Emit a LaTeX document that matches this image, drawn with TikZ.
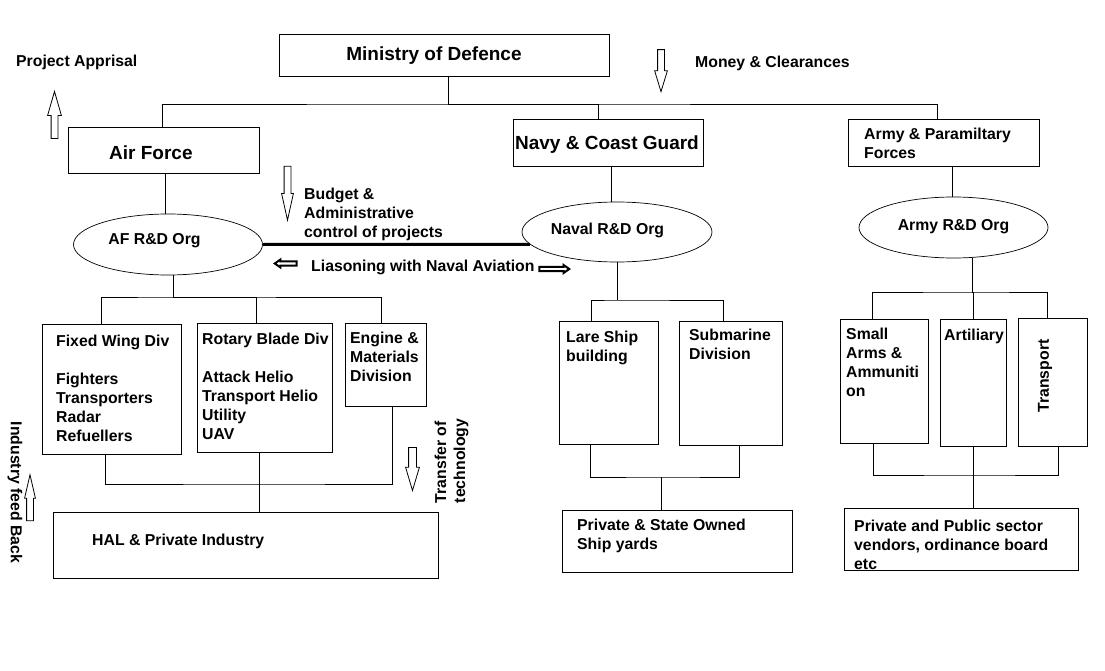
\documentclass[tikz,border=0pt]{standalone}
\usepackage{fontspec}
\setmainfont{Liberation Sans}
\usetikzlibrary{shapes.geometric,shapes.arrows}

\begin{document}
\begin{tikzpicture}[x=1pt, y=-1pt,
  box/.style={draw, line width=0.9pt, inner sep=0pt},
  rdorg/.style={draw, ellipse, line width=0.7pt, inner sep=0pt, minimum width=189pt, minimum height=61pt},
  lbl/.style={font=\fontsize{15.8}{19}\selectfont\bfseries, inner sep=0pt, align=left},
  biglbl/.style={font=\fontsize{19}{23}\selectfont\bfseries, inner sep=0pt},
  blockarrow/.style={single arrow, draw, line width=0.8pt, inner sep=3pt, single arrow head extend=3.5pt, anchor=tip},
  link/.style={line width=0.9pt}]
\useasboundingbox (0,0) rectangle (1105,671);

% ministry and services
\node[box, minimum width=330pt, minimum height=42pt] (mod) at (444,55) {};
\node[biglbl] (modtxt) at (434,55.5) {Ministry of Defence};
\node[box, minimum width=191pt, minimum height=46pt] (af) at (163.5,150) {};
\node[biglbl, anchor=west] (aftxt) at (109,152.5) {Air Force};
\node[box, minimum width=190pt, minimum height=47pt] (navy) at (608,142.5) {};
\node[biglbl] (navytxt) at (607,144.5) {Navy \& Coast Guard};
\node[box, minimum width=191pt, minimum height=47pt] (army) at (943.5,142.5) {};
\node[lbl, anchor=north west] (armytxt) at (864,128) {Army \& Paramiltary\\Forces};

\node[lbl, anchor=west] (apprisal) at (16,62) {Project Apprisal};
\node[blockarrow, rotate=90, minimum height=47pt, single arrow tip angle=32] (apprisalup) at (54.5,90) {};
\node[lbl, anchor=west] (money) at (695,63) {Money \& Clearances};
\node[blockarrow, rotate=-90, minimum height=42pt, single arrow head extend=3pt, single arrow tip angle=34] (moneydown) at (661,93) {};

\coordinate (topbus) at (448,104);
\draw[link] ([xshift=4pt]mod.south) -- (topbus);
\draw[link] ([xshift=-1.5pt]af.north) |- (topbus) -| ([xshift=-6.5pt]army.north);
\draw[link] ([xshift=-10pt]navy.north) |- (topbus);

% R&D organisations
\node[rdorg] (afrd) at (168,244.5) {};
\node[lbl] (afrdtxt) at (154.5,240.5) {AF R\&D Org};
\node[rdorg, minimum width=190pt, minimum height=60pt] (navrd) at (617,232) {};
\node[lbl] (navrdtxt) at (607.5,230.5) {Naval R\&D Org};
\node[rdorg] (armyrd) at (953.5,227.5) {};
\node[lbl] (armyrdtxt) at (953.5,226.5) {Army R\&D Org};
\draw[link] ([xshift=1.5pt]af.south) -- ([xshift=-3pt]afrd.north);
\draw[link] ([xshift=3pt]navy.south) -- ([xshift=-6pt]navrd.north);
\draw[link] ([xshift=8.5pt]army.south) -- ([xshift=-1.5pt]armyrd.north);

\node[blockarrow, rotate=-90, minimum height=54pt, single arrow head extend=2.5pt, single arrow tip angle=25] (budgetdown) at (287.5,222) {};
\node[lbl, anchor=north west] (budget) at (304,188) {Budget \&\\Administrative\\control of projects};
\draw[line width=3pt] (afrd.east) -- (navrd.188);
\node[blockarrow, rotate=180, line width=2pt, inner sep=1.2pt, single arrow head extend=1.8pt, single arrow tip angle=70, minimum height=22pt] (liaisonleft) at (273,263.5) {};
\node[lbl, anchor=west] (liaison) at (311,267) {Liasoning with Naval Aviation};
\node[blockarrow, line width=2pt, inner sep=1.2pt, single arrow head extend=1.8pt, single arrow tip angle=70, minimum height=30pt] (liaisonright) at (571,269) {};

% air force divisions
\coordinate (afbus) at (173,297);
\node[box, minimum width=139pt, minimum height=130pt] (fw) at (111.5,389) {};
\node[lbl, anchor=north west] (fwtxt) at (56,335) {Fixed Wing Div\\[19pt]Fighters\\Transporters\\Radar\\Refuellers};
\node[box, minimum width=135pt, minimum height=129pt] (rb) at (264.5,387.5) {};
\node[lbl, anchor=north west] (rbtxt) at (202,333) {Rotary Blade Div\\[19pt]Attack Helio\\Transport Helio\\Utility\\UAV};
\node[box, minimum width=81pt, minimum height=83pt] (em) at (385.5,364.5) {};
\node[lbl, anchor=north west] (emtxt) at (350,332) {Engine \&\\Materials\\Division};
\node[box, minimum width=385pt, minimum height=66pt] (hal) at (245.5,545) {};
\node[lbl, anchor=west] (haltxt) at (92,541) {HAL \& Private Industry};
\coordinate (afjoin) at (259,484);
\draw[link] ([xshift=5pt]afrd.south) -- (afbus);
\draw[link] ([xshift=-10.5pt]fw.north) |- (afbus) -| ([xshift=-4.5pt]em.north);
\draw[link] ([xshift=-8.5pt]rb.north) |- (afbus);
\draw[link] ([xshift=-6.5pt]fw.south) |- (afjoin) -| ([xshift=6.5pt]em.south);
\draw[link] ([xshift=-5.5pt]rb.south) -- ([xshift=13.5pt]hal.north);

\node[blockarrow, rotate=90, minimum height=46pt, single arrow head extend=2pt, single arrow tip angle=26] (feedup) at (30,473) {};
\node[lbl, rotate=-90] (feedback) at (15,492.5) {Industry feed Back};
\node[blockarrow, rotate=-90, minimum height=43pt, inner sep=3.5pt, single arrow head extend=3pt, single arrow tip angle=33] (transferdown) at (412.5,492) {};
\node[lbl, rotate=90] (transfer) at (451.5,461) {Transfer of\\technology};

% navy divisions
\coordinate (navbus) at (617,300);
\node[box, minimum width=99pt, minimum height=123pt] (lare) at (608.5,382.5) {};
\node[lbl, anchor=north west] (laretxt) at (566,331) {Lare Ship\\building};
\node[box, minimum width=103pt, minimum height=124pt] (sub) at (730.5,383) {};
\node[lbl, anchor=north west] (subtxt) at (689,329) {Submarine\\Division};
\node[box, minimum width=230pt, minimum height=62pt] (ship) at (677,541) {};
\node[lbl, anchor=north west] (shiptxt) at (577,519) {Private \& State Owned\\Ship yards};
\coordinate (navjoin) at (661,477);
\draw[link] (navrd.south) -- (navbus);
\draw[link] ([xshift=-17.5pt]lare.north) |- (navbus) -| ([xshift=-7.5pt]sub.north);
\draw[link] ([xshift=-18.5pt]lare.south) |- (navjoin) -| ([xshift=8.5pt]sub.south);
\draw[link] (navjoin) -- ([xshift=-16pt]ship.north);

% army divisions
\coordinate (armybus) at (972,292);
\node[box, minimum width=88pt, minimum height=124pt] (arms) at (884,381) {};
\node[lbl, anchor=north west] (armstxt) at (846,328) {Small\\Arms \&\\Ammuniti\\on};
\node[box, minimum width=66pt, minimum height=127pt] (art) at (973,382.5) {};
\node[lbl, anchor=north west] (arttxt) at (944,329) {Artiliary};
\node[box, minimum width=69pt, minimum height=128pt] (trans) at (1052.5,382) {};
\node[lbl, rotate=90] (transtxt) at (1045,376) {Transport};
\node[box, minimum width=234pt, minimum height=62pt] (vend) at (961,539) {};
\node[lbl, anchor=north west] (vendtxt) at (854,520) {Private and Public sector\\vendors, ordinance board\\etc};
\coordinate (armyjoin) at (973,475);
\draw[link] ([xshift=18.5pt]armyrd.south) -- (armybus);
\draw[link] ([xshift=-12pt]arms.north) |- (armybus) -| ([xshift=-5.5pt]trans.north);
\draw[link] (art.north) |- (armybus);
\draw[link] ([xshift=-11pt]arms.south) |- (armyjoin) -| ([xshift=5.5pt]trans.south);
\draw[link] (art.south) -- ([xshift=12pt]vend.north);
\end{tikzpicture}
\end{document}
